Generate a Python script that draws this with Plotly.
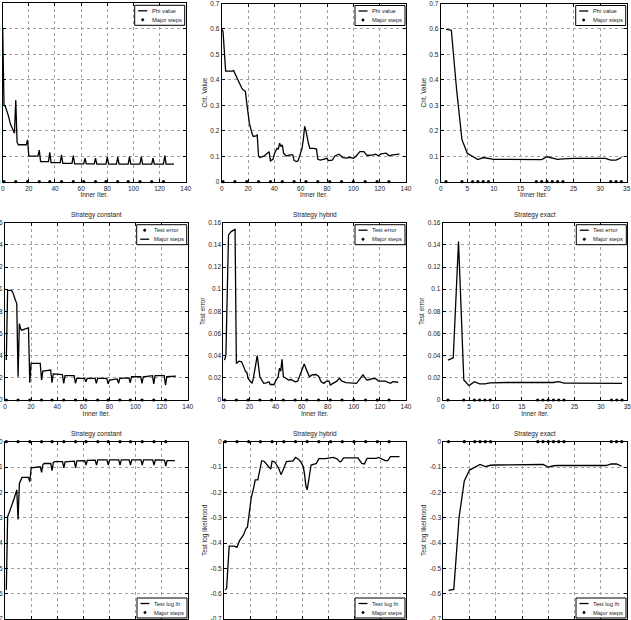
import plotly.graph_objects as go

W, H = 631, 620
FONT = "Liberation Sans"

# ---------------- data ----------------
STRATEGIES = ["Strategy constant", "Strategy hybrid", "Strategy exact"]

CONST_STEPS = [1, 10, 19, 28, 36, 45, 54, 62, 71, 79, 88, 96, 105, 114, 123]
HYBRID_STEPS = [1, 10, 19, 28, 37, 46, 55, 64, 73, 82, 91, 100, 109, 118, 127]
EXACT_STEPS = [1, 4, 6, 7, 8, 9, 18, 19, 20, 21, 22, 23, 32, 33, 34]
EXACT_ITER = list(range(1, 35))

# Phi value (criterion) -- constant
const_phi_x = [0, 1, 2, 4, 6, 8, 9, 10, 11, 12, 18, 19, 20, 27, 28, 29, 35, 36, 37,
               44, 45, 46, 53, 54, 55, 62, 63, 64, 70, 71, 72, 79, 80, 81, 87, 88, 89,
               96, 97, 98, 105, 106, 107, 114, 115, 116, 123, 124, 125, 131]
const_phi_y = [0.6, 0.3, 0.295, 0.265, 0.225, 0.2, 0.19, 0.32, 0.155, 0.145, 0.145, 0.164,
               0.1, 0.1, 0.124, 0.079, 0.079, 0.115, 0.075, 0.075, 0.105, 0.072, 0.072,
               0.102, 0.07, 0.07, 0.092, 0.07, 0.07, 0.092, 0.069, 0.069, 0.096, 0.069,
               0.069, 0.096, 0.069, 0.069, 0.098, 0.069, 0.069, 0.098, 0.069, 0.069,
               0.092, 0.069, 0.069, 0.102, 0.069, 0.069]

# Phi value -- hybrid
hyb_phi_x = [0, 1, 3, 8, 9, 10, 13, 15, 16, 18, 19, 20, 21, 23, 24, 26, 27, 28, 29, 32,
             35, 36, 37, 39, 40, 41, 42, 43, 44, 45, 46, 47, 49, 52, 54, 55, 57, 58, 60,
             61, 62, 63, 64, 65, 66, 67, 70, 72, 73, 75, 79, 80, 81, 84, 86, 89, 90, 92,
             95, 97, 100, 102, 105, 108, 110, 111, 115, 117, 119, 121, 125, 127, 130, 135]
hyb_phi_y = [0.6, 0.59, 0.434, 0.434, 0.437, 0.425, 0.39, 0.37, 0.362, 0.355, 0.31, 0.274,
             0.23, 0.19, 0.178, 0.18, 0.183, 0.1, 0.095, 0.1, 0.115, 0.118, 0.082, 0.088,
             0.11, 0.122, 0.131, 0.128, 0.151, 0.138, 0.145, 0.112, 0.101, 0.105, 0.105,
             0.083, 0.079, 0.082, 0.112, 0.13, 0.165, 0.218, 0.2, 0.17, 0.148, 0.131, 0.131,
             0.128, 0.088, 0.085, 0.089, 0.092, 0.083, 0.085, 0.101, 0.108, 0.104, 0.095,
             0.093, 0.096, 0.092, 0.1, 0.118, 0.118, 0.105, 0.103, 0.105, 0.108, 0.102,
             0.109, 0.112, 0.102, 0.105, 0.108]

# Phi value -- exact
exact_phi = [0.598, 0.595, 0.36, 0.165, 0.112, 0.1, 0.087, 0.095, 0.09, 0.088,
             0.088, 0.088, 0.088, 0.088, 0.088, 0.088, 0.088, 0.087, 0.087, 0.098,
             0.093, 0.088, 0.09, 0.092, 0.092, 0.092, 0.092, 0.092, 0.092, 0.092,
             0.092, 0.085, 0.085, 0.095]

# Test error -- constant
const_err_x = [1, 2, 5, 6, 8, 9, 10, 11, 12, 13, 15, 18, 19, 20, 27, 28, 29, 35, 36, 37,
               44, 45, 46, 53, 54, 55, 61, 62, 63, 69, 70, 71, 78, 79, 80, 86, 87, 88,
               95, 96, 97, 104, 105, 106, 113, 114, 115, 122, 123, 124, 131]
const_err_y = [0.036, 0.099, 0.099, 0.097, 0.09, 0.087, 0.021, 0.069, 0.064, 0.063, 0.064,
               0.065, 0.0156, 0.033, 0.033, 0.018, 0.026, 0.027, 0.0156, 0.0235, 0.023,
               0.015, 0.022, 0.022, 0.015, 0.0196, 0.0196, 0.0165, 0.0196, 0.0196, 0.015,
               0.0196, 0.0196, 0.0145, 0.018, 0.019, 0.015, 0.0196, 0.02, 0.0156, 0.021,
               0.021, 0.015, 0.021, 0.022, 0.0145, 0.022, 0.022, 0.0135, 0.021, 0.0215]

# Test error -- hybrid
hyb_err_x = [1, 2, 4, 6, 9, 10, 12, 14, 16, 17, 18, 19, 20, 22, 23, 25, 26, 28, 30, 31,
             33, 35, 36, 39, 40, 42, 43, 44, 45, 46, 48, 50, 52, 55, 57, 59, 61, 62, 64,
             66, 68, 71, 73, 75, 77, 79, 81, 82, 84, 87, 89, 91, 94, 100, 102, 105, 107,
             108, 110, 112, 115, 117, 119, 124, 126, 128, 130, 134]
hyb_err_y = [0.036, 0.0406, 0.149, 0.152, 0.154, 0.033, 0.035, 0.0345, 0.029, 0.0256,
             0.025, 0.0195, 0.018, 0.015, 0.0195, 0.036, 0.04, 0.021, 0.0165, 0.015,
             0.0155, 0.0165, 0.014, 0.014, 0.017, 0.021, 0.0286, 0.026, 0.0367, 0.021,
             0.0196, 0.018, 0.0185, 0.0165, 0.017, 0.0226, 0.028, 0.0325, 0.0265, 0.021,
             0.0226, 0.023, 0.0215, 0.0165, 0.015, 0.017, 0.017, 0.0135, 0.015, 0.017,
             0.0196, 0.017, 0.0156, 0.015, 0.015, 0.0195, 0.0226, 0.021, 0.018, 0.0185,
             0.0195, 0.019, 0.017, 0.017, 0.016, 0.015, 0.0165, 0.016]

# Test error -- exact
exact_err = [0.036, 0.038, 0.143, 0.018, 0.013, 0.0165, 0.0145, 0.0145, 0.0155,
             0.0158, 0.0158, 0.0158, 0.0158, 0.0158, 0.0158, 0.0158, 0.0158, 0.0158, 0.0158,
             0.0155, 0.0158, 0.0165, 0.0152,
             0.0152, 0.0152, 0.0152, 0.0152, 0.0152, 0.0152, 0.0152, 0.0152, 0.0152, 0.0152,
             0.015]

# Test log likelihood -- constant
const_llh_x = [1, 2, 3, 5, 7, 9, 10, 11, 12, 13, 18, 19, 20, 27, 28, 29, 30, 35, 36, 37,
               38, 44, 45, 46, 53, 54, 55, 61, 62, 63, 69, 70, 71, 78, 79, 80, 87, 88, 89,
               95, 96, 97, 104, 105, 106, 113, 114, 115, 122, 123, 124, 130]
const_llh_y = [-0.585, -0.296, -0.283, -0.257, -0.224, -0.19, -0.307, -0.165, -0.155,
               -0.141, -0.141, -0.158, -0.103, -0.099, -0.121, -0.09, -0.086, -0.086,
               -0.114, -0.082, -0.079, -0.079, -0.103, -0.08, -0.077, -0.103, -0.076,
               -0.075, -0.092, -0.074, -0.073, -0.092, -0.072, -0.072, -0.092, -0.072,
               -0.072, -0.092, -0.072, -0.072, -0.092, -0.072, -0.072, -0.092, -0.072,
               -0.072, -0.092, -0.072, -0.073, -0.096, -0.075, -0.075]

# Test log likelihood -- hybrid
hyb_llh_x = [1, 2, 4, 8, 10, 12, 15, 17, 18, 19, 20, 21, 23, 24, 26, 28, 29, 31, 33, 35,
             36, 37, 39, 41, 42, 44, 46, 48, 51, 53, 55, 57, 59, 61, 62, 63, 64, 65, 66,
             67, 70, 71, 73, 78, 84, 87, 89, 90, 92, 100, 103, 106, 108, 110, 117, 119,
             121, 124, 126, 128, 135]
hyb_llh_y = [-0.585, -0.579, -0.412, -0.412, -0.417, -0.39, -0.368, -0.342, -0.338, -0.3,
             -0.25, -0.22, -0.178, -0.151, -0.151, -0.1, -0.075, -0.078, -0.089, -0.099,
             -0.108, -0.077, -0.08, -0.096, -0.105, -0.13, -0.105, -0.079, -0.077, -0.077,
             -0.062, -0.068, -0.079, -0.099, -0.13, -0.175, -0.19, -0.15, -0.11, -0.092,
             -0.088, -0.086, -0.067, -0.067, -0.062, -0.068, -0.079, -0.079, -0.064,
             -0.062, -0.064, -0.086, -0.088, -0.066, -0.066, -0.062, -0.068, -0.075,
             -0.075, -0.059, -0.059]

# Test log likelihood -- exact
exact_llh = [-0.587, -0.583, -0.3, -0.155, -0.112, -0.1, -0.09, -0.098, -0.093,
             -0.092, -0.092, -0.092, -0.092, -0.092, -0.092, -0.092, -0.092, -0.092, -0.09,
             -0.1, -0.095,
             -0.094, -0.094, -0.094, -0.094, -0.094, -0.094, -0.094, -0.094, -0.094, -0.094,
             -0.088, -0.088, -0.097]

# axis ticks
X_TICKS_ITER = [0, 20, 40, 60, 80, 100, 120, 140]
X_TICKS_EXACT = [0, 5, 10, 15, 20, 25, 30, 35]
Y_TICKS_CRIT = [0, 0.1, 0.2, 0.3, 0.4, 0.5, 0.6, 0.7]
Y_TEXT_CRIT = ["0", "0.1", "0.2", "0.3", "0.4", "0.5", "0.6", "0.7"]
Y_TICKS_ERR = [0, 0.02, 0.04, 0.06, 0.08, 0.1, 0.12, 0.14, 0.16]
Y_TEXT_ERR = ["0", "0.02", "0.04", "0.06", "0.08", "0.1", "0.12", "0.14", "0.16"]
Y_TICKS_LLH = [-0.7, -0.6, -0.5, -0.4, -0.3, -0.2, -0.1, 0]
Y_TEXT_LLH = ["-0.7", "-0.6", "-0.5", "-0.4", "-0.3", "-0.2", "-0.1", "0"]

# ---------------- layout helpers (pixel boxes of each panel) ----------------
PANEL_PX = {
    (0, 0): (2.7, 185.7, 3.3, 181.7), (0, 1): (221.7, 406.0, 3.5, 181.7), (0, 2): (440.7, 626.7, 3.5, 181.7),
    (1, 0): (5.0, 187.7, 222.7, 400.0), (1, 1): (223.3, 406.0, 222.7, 400.0), (1, 2): (442.7, 627.3, 222.7, 400.0),
    (2, 0): (5.0, 188.0, 441.7, 619.0), (2, 1): (224.0, 406.0, 441.7, 619.0), (2, 2): (443.3, 627.0, 441.7, 619.0),
}

def px_x(p):
    return p / W

def px_y(p):
    return 1 - p / H

panels = [
    (0, 0, const_phi_x, const_phi_y, CONST_STEPS, [("Phi value", "line"), ("Major steps", "dot")]),
    (0, 1, hyb_phi_x, hyb_phi_y, HYBRID_STEPS, [("Phi value", "line"), ("Major steps", "dot")]),
    (0, 2, EXACT_ITER, exact_phi, EXACT_STEPS, [("Phi value", "line"), ("Major steps", "dot")]),
    (1, 0, const_err_x, const_err_y, CONST_STEPS, [("Test error", "dot"), ("Major steps", "line")]),
    (1, 1, hyb_err_x, hyb_err_y, HYBRID_STEPS, [("Test error", "line"), ("Major steps", "dot")]),
    (1, 2, EXACT_ITER, exact_err, EXACT_STEPS, [("Test error", "line"), ("Major steps", "dot")]),
    (2, 0, const_llh_x, const_llh_y, CONST_STEPS, [("Test log lh", "line"), ("Major steps", "dot")]),
    (2, 1, hyb_llh_x, hyb_llh_y, HYBRID_STEPS, [("Test log lh", "line"), ("Major steps", "dot")]),
    (2, 2, EXACT_ITER, exact_llh, EXACT_STEPS, [("Test log lh", "line"), ("Major steps", "dot")]),
]

ROW_Y = {
    0: dict(vals=Y_TICKS_CRIT, text=Y_TEXT_CRIT, rng=[0, 0.7], title="Crit. Value"),
    1: dict(vals=Y_TICKS_ERR, text=Y_TEXT_ERR, rng=[0, 0.16], title="Test error"),
    2: dict(vals=Y_TICKS_LLH, text=Y_TEXT_LLH, rng=[-0.7, 0], title="Test log likelihood"),
}

FS = 6.5
LFS = 5.8
TXT = "#222222"
fig = go.Figure()
shapes = []
annotations = []
layout = {}

axis_common = dict(
    automargin=False, ticklabeloverflow="allow",
    showgrid=True, gridcolor="#a0a0a0", gridwidth=0.6, griddash="dot",
    showline=True, linecolor="black", linewidth=1, mirror="allticks",
    ticks="inside", ticklen=3, tickwidth=0.8, tickcolor="black",
    zeroline=False, tickfont=dict(size=FS, color=TXT, family=FONT),
)

for i, (r, c, lx, ly, steps, entries) in enumerate(panels):
    n = i + 1
    xa = "x" if n == 1 else f"x{n}"
    ya = "y" if n == 1 else f"y{n}"
    x0, x1, y0, y1 = PANEL_PX[(r, c)]
    exact = (c == 2)
    yinfo = ROW_Y[r]

    xaxis = dict(
        axis_common, domain=[px_x(x0), px_x(x1)], anchor=ya,
        range=[0, 35] if exact else [0, 140],
        tickvals=X_TICKS_EXACT if exact else X_TICKS_ITER,
    )
    if r < 2:  # bottom-row x titles fall below the visible page in the reference
        xaxis["title"] = dict(text="Inner Iter.", font=dict(size=FS, color=TXT, family=FONT), standoff=1)
    yaxis = dict(
        axis_common, domain=[px_y(y1), px_y(y0)], anchor=xa,
        range=yinfo["rng"], tickvals=yinfo["vals"], ticktext=yinfo["text"],
    )
    if c > 0:  # left-column y titles fall beyond the left page edge in the reference
        yaxis["title"] = dict(text=yinfo["title"], font=dict(size=FS, color=TXT, family=FONT), standoff=2)
    layout["xaxis" if n == 1 else f"xaxis{n}"] = xaxis
    layout["yaxis" if n == 1 else f"yaxis{n}"] = yaxis

    fig.add_trace(go.Scatter(x=lx, y=ly, mode="lines", line=dict(color="black", width=1.3),
                             xaxis=xa, yaxis=ya, showlegend=False, hoverinfo="skip"))
    fig.add_trace(go.Scatter(x=steps, y=[0] * len(steps), mode="markers",
                             marker=dict(color="black", size=3.2), cliponaxis=False,
                             xaxis=xa, yaxis=ya, showlegend=False, hoverinfo="skip"))

    if r > 0:
        annotations.append(dict(text=STRATEGIES[c], x=px_x((x0 + x1) / 2), y=px_y(y0 - 7.5),
                                xref="paper", yref="paper", showarrow=False,
                                xanchor="center", yanchor="middle",
                                font=dict(size=FS, color=TXT, family=FONT)))

    # legend box drawn by hand (matches the small matplotlib-style legend)
    bw, bh = 50, 20
    bx1 = x1 - 1
    bx0 = bx1 - bw
    by0 = y0 + 2 if r < 2 else y1 - 1 - bh
    by1 = by0 + bh
    shapes.append(dict(type="rect", xref="paper", yref="paper",
                       x0=px_x(bx0), x1=px_x(bx1), y0=px_y(by1), y1=px_y(by0),
                       line=dict(color="black", width=1), fillcolor="white", layer="above"))
    for k, (label, kind) in enumerate(entries):
        cy = by0 + 5.5 + 9 * k
        if kind == "line":
            shapes.append(dict(type="line", xref="paper", yref="paper",
                               x0=px_x(bx0 + 3.5), x1=px_x(bx0 + 12.5), y0=px_y(cy), y1=px_y(cy),
                               line=dict(color="black", width=1.3), layer="above"))
        else:
            shapes.append(dict(type="circle", xref="paper", yref="paper",
                               x0=px_x(bx0 + 6.8), x1=px_x(bx0 + 9.2), y0=px_y(cy + 1.2), y1=px_y(cy - 1.2),
                               line=dict(color="black", width=0.5), fillcolor="black", layer="above"))
        annotations.append(dict(text=label, x=px_x(bx0 + 14.8), y=px_y(cy), xref="paper", yref="paper",
                                showarrow=False, xanchor="left", yanchor="middle",
                                font=dict(size=LFS, color=TXT, family=FONT)))

fig.update_layout(
    width=W, height=H, margin=dict(l=0, r=0, t=0, b=0, pad=0, autoexpand=False),
    paper_bgcolor="white", plot_bgcolor="white",
    font=dict(family=FONT, size=FS, color=TXT),
    showlegend=False, shapes=shapes, annotations=annotations,
    **layout,
)

fig.write_html("out.html")
